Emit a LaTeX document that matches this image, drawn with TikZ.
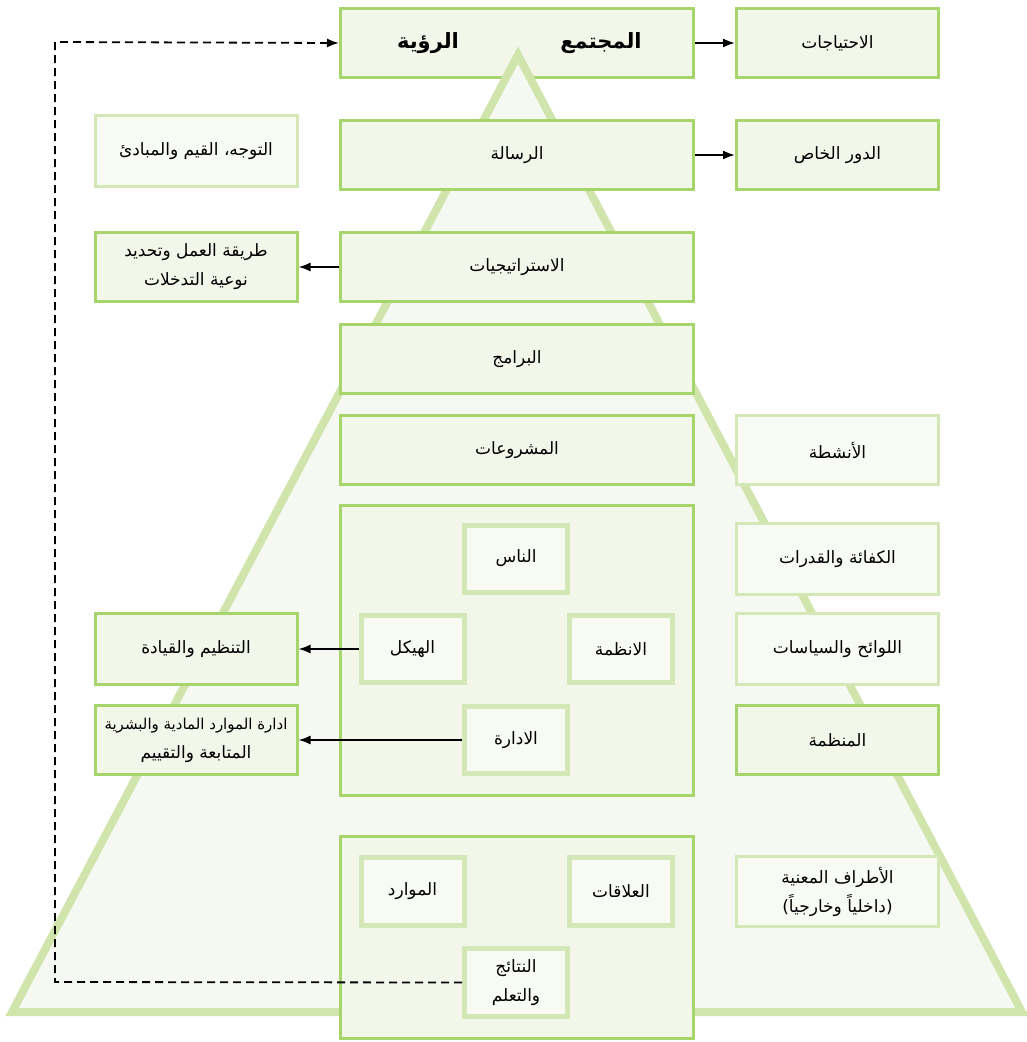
\documentclass[tikz,border=0pt]{standalone}
\usepackage{fontspec}
\usepackage{tikz}
\usetikzlibrary{arrows.meta}
\newfontfamily\arabicfont[Script=Arabic]{DejaVu Sans}
\TeXXeTstate=1
\definecolor{leafgreen}{HTML}{A8D46C}
\definecolor{palegreen}{HTML}{D3E8B6}
\definecolor{pyrgreen}{HTML}{CFE5AB}
\definecolor{boxfill}{HTML}{F3F7EA}
\definecolor{palefill}{HTML}{F8FAF4}
\definecolor{pyrfill}{HTML}{F6F9F1}
\newcommand{\ar}[1]{\beginR #1\endR}

\begin{document}
\begin{tikzpicture}[x=1pt,y=-1pt,
		every node/.style={font=\arabicfont\fontsize{17}{29}\selectfont,align=center,inner sep=0pt},
		mainbox/.style={rectangle,draw=leafgreen,line width=3pt,fill=boxfill,minimum width=353pt,minimum height=69pt},
		sidebox/.style={rectangle,draw=leafgreen,line width=3pt,fill=boxfill,minimum width=202pt,minimum height=69pt},
		palebox/.style={sidebox,draw=palegreen,fill=palefill},
		cellbox/.style={rectangle,draw=palegreen,line width=5pt,fill=palefill,minimum width=103pt,minimum height=67pt},
		link/.style={line width=1.8pt,-{Latex[length=12pt,width=9pt]}}]
		\useasboundingbox (0,0) rectangle (1027,1042);
%		\draw[help lines,step=50] (0,0) grid (1027,1042);
		\path (518,55) coordinate (apex);
		\path (12,1012) coordinate (base_left);
		\path (1022,1012) coordinate (base_right);
		\path (55,982) coordinate (loop_bottom);
		\path (55,42) coordinate (loop_top);

		\path (517,43) node(vision) [mainbox] {};
		\draw[draw=pyrgreen,fill=pyrfill,line width=8pt] (apex) -- (base_right) -- (base_left) -- cycle;
		\path (601,43) node(society) {\fontsize{21}{24}\selectfont\bfseries\ar{المجتمع}};
		\path (428,43) node(visionlabel) {\fontsize{21}{24}\selectfont\bfseries\ar{الرؤية}};
		\path (837.5,43) node(needs) [sidebox] {\ar{الاحتياجات}};

		\path (517,155) node(mission) [mainbox] {\ar{الرسالة}};
		\path (837.5,155) node(role) [sidebox] {\ar{الدور الخاص}};
		\path (196,151) node(values) [palebox,minimum height=71pt] {\ar{التوجه، القيم والمبادئ}};

		\path (517,267) node(strategies) [mainbox] {\ar{الاستراتيجيات}};
		\path (196,267) node(method) [sidebox] {\ar{طريقة العمل وتحديد}\\\ar{نوعية التدخلات}};

		\path (517,359) node(programs) [mainbox] {\ar{البرامج}};
		\path (517,450) node(projects) [mainbox] {\ar{المشروعات}};
		\path (837.5,450) node(activities) [palebox] {\ar{الأنشطة}};

		\path (517,650.5) node(org) [mainbox,minimum height=290pt] {};
		\path (516,558.5) node(people) [cellbox] {\ar{الناس}};
		\path (412.5,649) node(structure) [cellbox] {\ar{الهيكل}};
		\path (621,649) node(systems) [cellbox] {\ar{الانظمة}};
		\path (516,740) node(admin) [cellbox] {\ar{الادارة}};
		\path (196,649) node(leading) [sidebox,minimum height=71pt] {\ar{التنظيم والقيادة}};
		\path (196,740) node(resources) [sidebox] {\fontsize{15}{29}\selectfont\ar{ادارة الموارد المادية والبشرية}\\\fontsize{17}{29}\selectfont\ar{المتابعة والتقييم}};
		\path (837.5,559) node(skills) [palebox,minimum height=71pt] {\ar{الكفائة والقدرات}};
		\path (837.5,649) node(rules) [palebox,minimum height=71pt] {\ar{اللوائح والسياسات}};
		\path (837.5,740) node(organization) [sidebox] {\ar{المنظمة}};

		\path (517,937.5) node(ground) [mainbox,minimum height=202pt] {};
		\path (412.5,891.5) node(assets) [cellbox,minimum height=68pt] {\ar{الموارد}};
		\path (621,891.5) node(relations) [cellbox,minimum height=68pt] {\ar{العلاقات}};
		\path (516,982.5) node(results) [cellbox,minimum height=68pt] {\ar{النتائج}\\\ar{والتعلم}};
		\path (837.5,891.5) node(parties) [palebox,minimum height=70pt] {\ar{الأطراف المعنية}\\\ar{(داخلياً وخارجياً)}};

		\draw[link] (vision) -- (needs);
		\draw[link] (mission) -- (role);
		\draw[link] (strategies) -- (method);
		\draw[link] (structure) -- (leading);
		\draw[link] (admin) -- (resources);
		\draw[link,dash pattern=on 8pt off 5pt] (results.west) -- (loop_bottom) -- (loop_top) -- (vision.west);
	\end{tikzpicture}
\end{document}
